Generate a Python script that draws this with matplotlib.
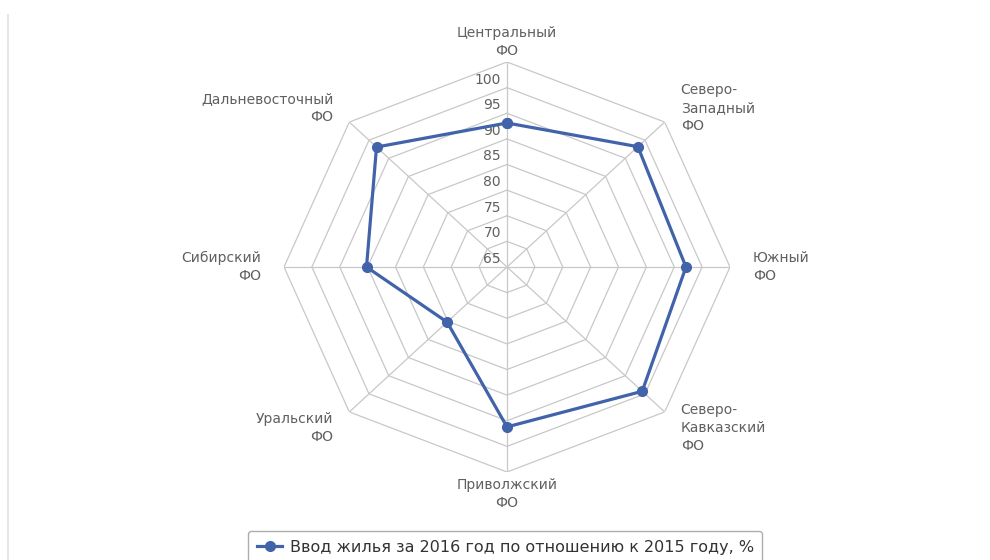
import matplotlib
matplotlib.use('Agg')
import matplotlib.pyplot as plt
from matplotlib.lines import Line2D
from matplotlib.transforms import offset_copy
import numpy as np

# data
regions = ['Центральный\nФО', 'Северо-\nЗападный\nФО', 'Южный\nФО',
           'Северо-\nКавказский\nФО', 'Приволжский\nФО', 'Уральский\nФО',
           'Сибирский\nФО', 'Дальневосточный\nФО']
values = [93.1, 98.2, 97.1, 99.3, 96.2, 80.2, 90.2, 98.1]
ring_levels = [70, 75, 80, 85, 90, 95, 100, 105]
tick_labels = [65, 70, 75, 80, 85, 90, 95, 100]
series_name = 'Ввод жилья за 2016 год по отношению к 2015 году, %'

plt.rcParams['font.family'] = ['DejaVu Sans']
W, H, DPI = 990, 560, 100
fig = plt.figure(figsize=(W / DPI, H / DPI), dpi=DPI)
fig.patch.set_facecolor('white')

# polar axes stretched a bit wider than tall, like the original
cx, cy, rx, ry = 507, 267, 223, 205
ax = fig.add_axes([(cx - rx) / W, (H - cy - ry) / H, 2 * rx / W, 2 * ry / H],
                  projection='polar')
ax.set_aspect('auto')
ax.set_theta_zero_location('N')
ax.set_theta_direction(-1)
ax.set_ylim(65, 105)
ax.grid(False)
ax.set_xticks([])
ax.set_yticks([])
ax.spines['polar'].set_visible(False)
ax.patch.set_alpha(0)

n = len(regions)
angles = np.arange(n) * 2 * np.pi / n
closed = np.append(angles, angles[0])

grid_c = '#c8c8c8'
for lv in ring_levels:
    ax.plot(closed, [lv] * (n + 1), color=grid_c, lw=0.9, zorder=1)
for a in angles:
    ax.plot([a, a], [65, 105], color=grid_c, lw=0.9, zorder=1)

# y labels along the top spoke
lab_tr = offset_copy(ax.transData, fig=fig, x=-6, y=8, units='dots')
for v in tick_labels:
    ax.text(0, v, str(v), transform=lab_tr, ha='right', va='center',
            fontsize=10, color='#606060')

# category labels, offsets in pixels from the outer vertex
offsets = [(0, 20, 'center'), (16, 14, 'left'), (23, 0, 'left'), (16, -16, 'left'),
           (0, -22, 'center'), (-16, -16, 'right'), (-23, 0, 'right'), (-16, 14, 'right')]
for a, lab, (dx, dy, ha) in zip(angles, regions, offsets):
    tr = offset_copy(ax.transData, fig=fig, x=dx, y=dy, units='dots')
    ax.text(a, 105, lab, transform=tr, ha=ha, va='center', fontsize=10,
            color='#606060', linespacing=1.35, multialignment=ha)

line_c = '#4163a9'
ax.plot(closed, values + [values[0]], color=line_c, lw=2.3, marker='o',
        markersize=7, zorder=3, clip_on=False)

# faint frame line on the left
fig.add_artist(Line2D([8 / W, 8 / W], [0, (H - 15) / H], color='#e6e6e6', lw=1.5))

handle = Line2D([], [], color=line_c, lw=2.3, marker='o', markersize=7)
leg = fig.legend([handle], [series_name], loc='upper left',
                 bbox_to_anchor=(248 / W, (H - 531) / H), fontsize=11.5,
                 frameon=True, fancybox=True, edgecolor='#999999',
                 handlelength=1.6, borderpad=0.55, handletextpad=0.45,
                 borderaxespad=0)
for t in leg.get_texts():
    t.set_color('#333333')

fig.savefig('out.png', dpi=DPI, facecolor='white')
